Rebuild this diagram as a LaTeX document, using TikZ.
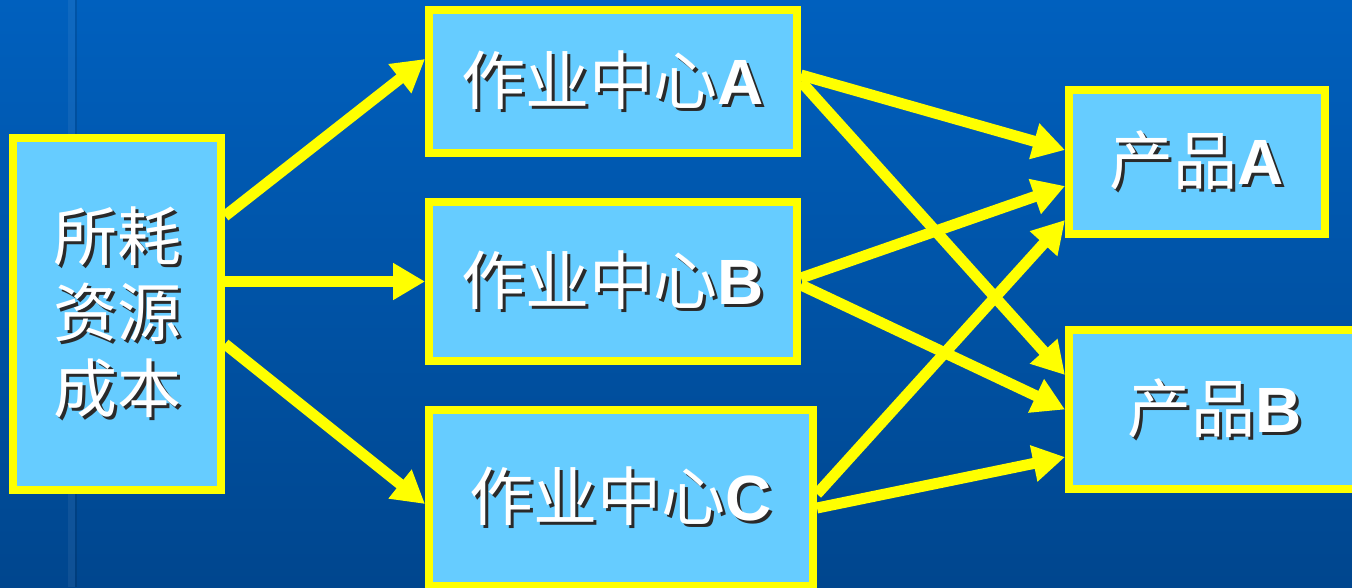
\documentclass[tikz,border=0pt]{standalone}
\usepackage{fontspec}
\setmainfont{Liberation Sans}
\newfontfamily\cjk{Noto Sans CJK SC}
\usetikzlibrary{arrows.meta}
\definecolor{bgtop}{HTML}{0060BE}
\definecolor{bgbot}{HTML}{00468E}
\definecolor{boxfill}{HTML}{66CCFF}
\definecolor{ylw}{HTML}{FFFF00}
\definecolor{shd}{HTML}{2A2A2A}
\pgfdeclarelayer{bglayer}
\pgfdeclarelayer{arrowlayer}
\pgfsetlayers{bglayer,arrowlayer,main}
\newcommand\shtxt[1]{\leavevmode\rlap{\kern3pt\raisebox{-3pt}{\color{shd}#1}}{\color{white}#1}}
\begin{document}
\begin{tikzpicture}[x=1pt,y=-1pt,
  box/.style={draw=ylw,line width=8pt,fill=boxfill,inner sep=0pt,
    font=\fontsize{64}{76}\selectfont,align=center},
  flow/.style={draw=ylw,line width=11pt,-{Triangle[length=32pt,width=35pt]}}]
\useasboundingbox (0,0) rectangle (1352,587);
\begin{pgfonlayer}{bglayer}
\shade[top color=bgtop,bottom color=bgbot] (0,0) rectangle (1352,587);
\fill[white,opacity=0.06] (68,0) rectangle (75,587);
\fill[black,opacity=0.12] (75,0) rectangle (77,587);
\end{pgfonlayer}
\node[box,minimum width=208pt,minimum height=352pt] (L) at (117,314)
  {\shtxt{\cjk 所耗}\\\shtxt{\cjk 资源}\\\shtxt{\cjk 成本}};
\node[box,minimum width=368pt,minimum height=143pt] (A) at (613,81.5)
  {\shtxt{{\cjk 作业中心}\textbf{A}}};
\node[box,minimum width=368pt,minimum height=159pt] (B) at (613,281.5)
  {\shtxt{{\cjk 作业中心}\textbf{B}}};
\node[box,minimum width=384pt,minimum height=176pt] (C) at (621,498)
  {\shtxt{{\cjk 作业中心}\textbf{C}}};
\node[box,minimum width=256pt,minimum height=144pt] (PA) at (1197,162)
  {\shtxt{{\cjk 产品}\textbf{A}}};
\node[box,minimum width=291pt,minimum height=159pt] (PB) at (1214.5,409.5)
  {\shtxt{{\cjk 产品}\textbf{B}}};
\begin{pgfonlayer}{arrowlayer}
\draw[flow] ([yshift=98pt]L.east) -- ([yshift=22.5pt]A.west);
\draw[flow] (L.east |- B.west) -- (B.west);
\draw[flow] ([yshift=-30pt]L.east) -- ([yshift=-6pt]C.west);
\draw[flow] ([yshift=6.5pt]A.east) -- ([yshift=12pt]PA.west);
\draw[flow] (A.east) -- ([yshift=34.5pt]PB.west);
\draw[flow] ([yshift=3.5pt]B.east) -- ([yshift=-24pt]PA.west);
\draw[flow] ([yshift=-3.5pt]B.east) -- (PB.west);
\draw[flow] ([yshift=4pt]C.east) -- ([yshift=-58pt]PA.west);
\draw[flow] ([yshift=-10pt]C.east) -- ([yshift=-47.5pt]PB.west);
\end{pgfonlayer}
\end{tikzpicture}
\end{document}
